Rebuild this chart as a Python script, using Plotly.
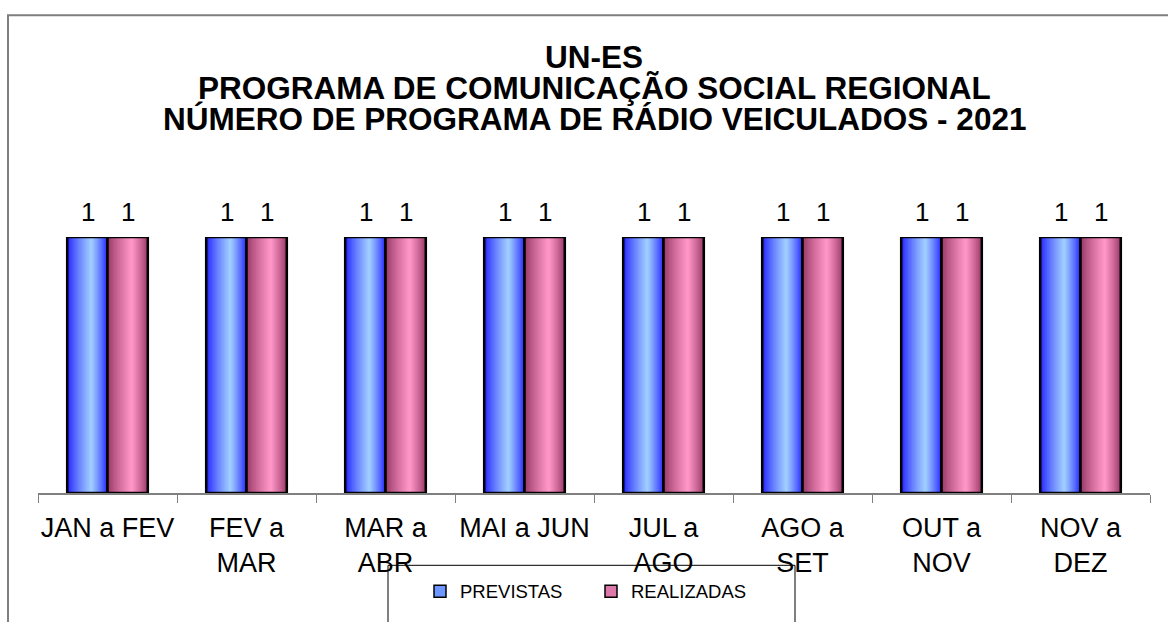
import plotly.graph_objects as go

categories = ["JAN a FEV", "FEV a<br>MAR", "MAR a<br>ABR", "MAI a JUN",
              "JUL a<br>AGO", "AGO a<br>SET", "OUT a<br>NOV", "NOV a<br>DEZ"]
previstas = [1, 1, 1, 1, 1, 1, 1, 1]
realizadas = [1, 1, 1, 1, 1, 1, 1, 1]
title_lines = ["UN-ES",
               "PROGRAMA DE COMUNICAÇÃO SOCIAL REGIONAL",
               "NÚMERO DE PROGRAMA DE RÁDIO VEICULADOS - 2021"]

FONT = "Liberation Sans, Arial, sans-serif"
W, H = 1168, 622
ML, MR, MT, MB = 38, 18, 237, 123
PW, PH = W - ML - MR, H - MT - MB

BW = 0.29  # bar width in category units
N = 18     # gradient layers


def px_x(p):
    return (p - ML) / PW


def px_y(p):
    return (H - MB - p) / PH


def rgb(c):
    return "rgb(%d,%d,%d)" % tuple(round(v) for v in c)


def lerp(c1, c2, t):
    return rgb([a + (b - a) * t for a, b in zip(c1, c2)])


series = [
    ("PREVISTAS", previstas, -BW, (35, 35, 255), (160, 205, 255), (110, 150, 255)),
    ("REALIZADAS", realizadas, 0.0, (150, 55, 100), (255, 150, 200), (220, 120, 170)),
]

fig = go.Figure()
h = 0.6
for name, vals, off, dark, light, mid in series:
    # legend-bearing base bar
    fig.add_trace(go.Bar(x=categories, y=vals, name=name, width=BW, offset=off,
                         marker=dict(color=rgb(mid), line=dict(color="black", width=1.5)),
                         hoverinfo="skip", showlegend=True))
    for k in range(N):
        t = k / (N - 1)
        x0 = t * h * 0.95
        x1 = 1 - t * (1 - h) * 0.95
        fig.add_trace(go.Bar(x=categories, y=vals, width=(x1 - x0) * BW,
                             offset=off + x0 * BW,
                             marker=dict(color=lerp(dark, light, t ** 0.8), line=dict(width=0)),
                             hoverinfo="skip", showlegend=False))
    fig.add_trace(go.Bar(x=categories, y=vals, width=BW, offset=off,
                         marker=dict(color="rgba(0,0,0,0)", line=dict(color="black", width=2.5)),
                         hoverinfo="skip", showlegend=False))

annotations = []
for name, vals, off, *_ in series:
    for c, v in zip(categories, vals):
        annotations.append(dict(x=c, y=v, xref="x", yref="y", text=str(v), showarrow=False,
                                xshift=(-20 if off < 0 else 20), yshift=25,
                                font=dict(family=FONT, size=26, color="black")))

for i, line in enumerate(title_lines):
    annotations.append(dict(x=0.5, y=px_y(53 + 31.5 * i), xref="paper", yref="paper",
                            text="<b>%s</b>" % line, showarrow=False, yanchor="middle",
                            font=dict(family=FONT, size=31.5, color="black")))

shapes = [
    dict(type="rect", xref="paper", yref="paper", x0=px_x(8), x1=px_x(1200),
         y0=px_y(700), y1=px_y(10), line=dict(color="#7f7f7f", width=2), layer="below"),
    dict(type="rect", xref="paper", yref="paper", x0=px_x(388), x1=px_x(795),
         y0=px_y(700), y1=px_y(573), line=dict(color="black", width=1), layer="below"),
]

fig.update_layout(
    width=W, height=H, autosize=False,
    margin=dict(l=ML, r=MR, t=MT, b=MB),
    paper_bgcolor="white", plot_bgcolor="white",
    barmode="overlay",
    showlegend=True,
    legend=dict(orientation="h", x=px_x(420), xanchor="left", y=px_y(600), yanchor="middle",
                font=dict(family=FONT, size=18.5, color="black"), bgcolor="rgba(0,0,0,0)",
                entrywidth=126, traceorder="normal", itemclick=False),
    annotations=annotations,
    shapes=shapes,
    xaxis=dict(type="category", showgrid=False, showline=True, linecolor="#808080", linewidth=1.5,
               ticks="outside", tickson="boundaries", ticklen=8, tickcolor="#808080",
               tickfont=dict(family=FONT, size=27, color="black"), tickangle=0,
               ticklabelstandoff=10),
    yaxis=dict(range=[0, 1], visible=False, showgrid=False, zeroline=False),
)

fig.write_html("out.html", config={"displayModeBar": False},
               post_script="document.body.style.margin='0';")
